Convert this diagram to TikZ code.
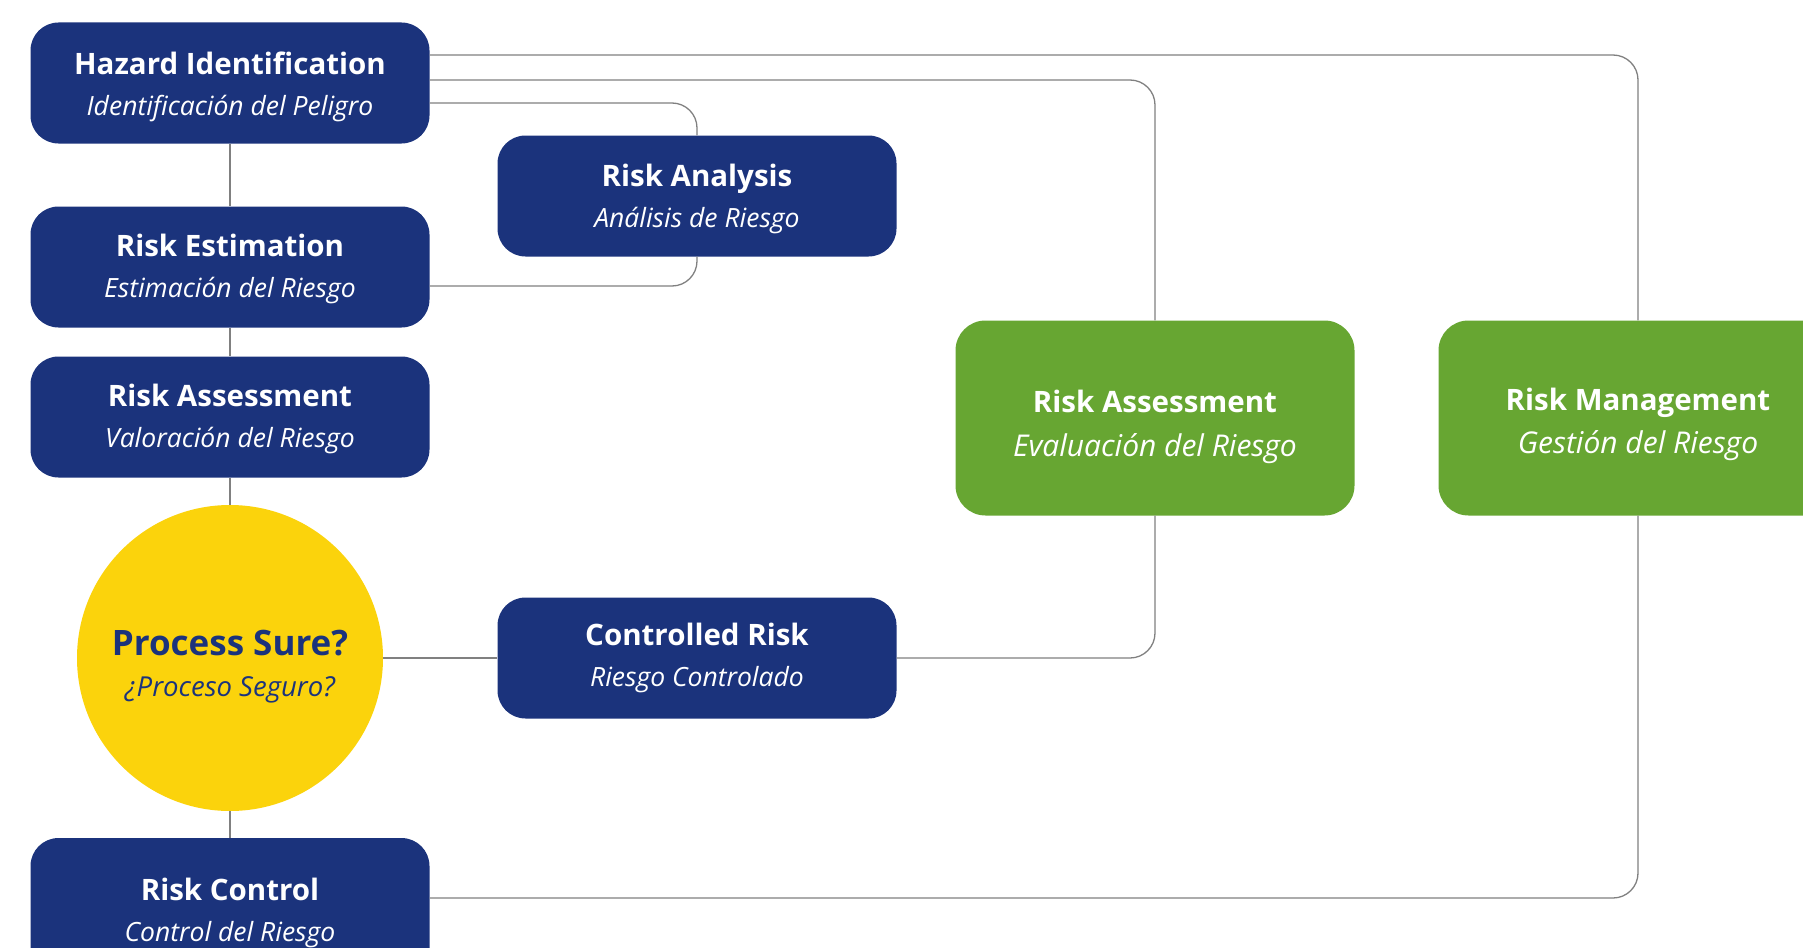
\documentclass[tikz,border=0pt]{standalone}
\usepackage{fontspec}
\setmainfont{Open Sans}
\usepackage{xcolor}
\usepackage{tikz}
\usetikzlibrary{positioning,calc}

\definecolor{navyblu}{RGB}{27,51,124}
\definecolor{leaf}{RGB}{103,166,50}
\definecolor{sunny}{RGB}{251,211,12}
\definecolor{wire}{RGB}{128,128,128}

% optional argument: strut height, pushes the text block down
\newcommand{\boxtitle}[2][0pt]{{\fontsize{29.5}{36}\selectfont\bfseries\rule{0pt}{#1}#2}}
\newcommand{\boxsub}[1]{{\fontsize{26.5}{36}\selectfont\itshape #1}}
\newcommand{\greensub}[1]{{\fontsize{30}{36}\selectfont\itshape #1}}

\begin{document}
\begin{tikzpicture}[x=1pt, y=-1pt,
    box/.style={rectangle, fill=#1, text=white, rounded corners=28pt, minimum width=399pt, minimum height=121pt, align=center, inner sep=0pt, font=\fontsize{28}{36}\selectfont},
    box/.default=navyblu,
    sure/.style={circle, fill=sunny, text=navyblu, minimum size=306pt, inner sep=0pt, align=center, font=\fontsize{28}{36}\selectfont},
    link/.style={draw=wire, line width=1.3pt, rounded corners=25pt},
  ]

    \clip (0,0) rectangle (1803,947);

    % Left column
    \node[box] (haz) at (230,83) {\boxtitle[30pt]{Hazard Identification}\\[5pt]\boxsub{Identificación del Peligro}};
    \node[box] (est) at (230,267) {\boxtitle[27pt]{Risk Estimation}\\[5pt]\boxsub{Estimación del Riesgo}};
    \node[box] (val) at (230,417) {\boxtitle[27pt]{Risk Assessment}\\[5pt]\boxsub{Valoración del Riesgo}};
    \node[sure] (ps) at (230,658) {{\fontsize{35}{42}\selectfont\bfseries\rule{0pt}{42pt}Process Sure?}\\[5pt]{\fontsize{27.5}{30}\selectfont\itshape ¿Proceso Seguro?}};
    \node[box, minimum height=150pt] (rc) at (230,913) {\boxtitle{Risk Control}\\[5pt]\boxsub{Control del Riesgo}};

    % Middle column
    \node[box] (ana) at (697,196) {\boxtitle[29pt]{Risk Analysis}\\[5pt]\boxsub{Análisis de Riesgo}};
    \node[box] (ctr) at (697,658) {\boxtitle{Controlled Risk}\\[5pt]\boxsub{Riesgo Controlado}};

    % Green summary boxes
    \node[box=leaf, minimum height=195pt, rounded corners=30pt] (eva) at (1155,418) {\boxtitle[41pt]{Risk Assessment}\\[8pt]\greensub{Evaluación del Riesgo}};
    \node[box=leaf, minimum height=195pt, rounded corners=30pt] (man) at (1638,418) {\boxtitle[35pt]{Risk Management}\\[7pt]\greensub{Gestión del Riesgo}};

    % Links
    \draw[link] (haz) -- (est);
    \draw[link] (est) -- (val);
    \draw[link] (val) -- (ps);
    \draw[link] (ps) -- (rc);
    \draw[link] (ps) -- (ctr);
    \draw[link] ([yshift=28pt]haz.east) -| (man.north);
    \draw[link] ([yshift=3pt]haz.east) -| (eva.north);
    \draw[link] ([yshift=-20pt]haz.east) -| (ana.north);
    \draw[link] (ana.south) |- ([yshift=-19pt]est.east);
    \draw[link] (ctr.east) -| (eva.south);
    \draw[link] ([yshift=15pt]rc.east) -| (man.south);

  \end{tikzpicture}
\end{document}
